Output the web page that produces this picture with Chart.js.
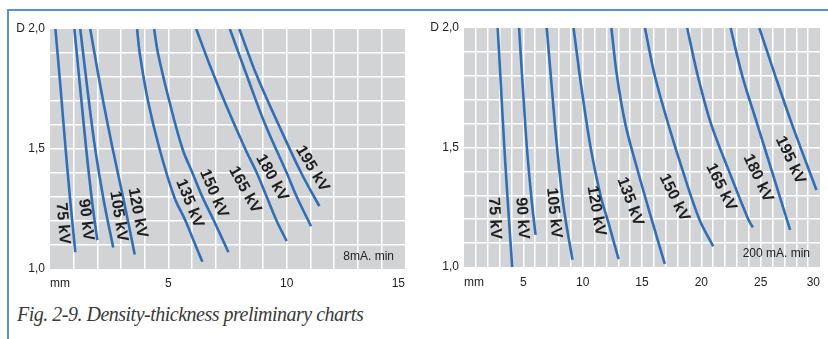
<!DOCTYPE html>
<html>
<head>
<meta charset="utf-8">
<script src="https://cdn.jsdelivr.net/npm/chart.js@4"></script>
<style>
  html, body { margin: 0; padding: 0; background: #fff; width: 828px; height: 339px; overflow: hidden; }
  #frame { position: absolute; left: 7px; top: 9px; width: 830px; height: 340px;
           border-top: 2px solid #5c8fd0; border-left: 2px solid #5c8fd0; }
  #c1 { position: absolute; left: 0; top: 0; }
  #c2 { position: absolute; left: 414px; top: 0; }
  #caption { position: absolute; left: 17px; top: 303px; line-height: 20px; white-space: nowrap;
             font: italic 20px "Liberation Serif", serif; letter-spacing: -0.5px; color: #3a3a3a; }
</style>
</head>
<body>
<div id="frame"></div>
<canvas id="c1" width="412" height="300"></canvas>
<canvas id="c2" width="414" height="300"></canvas>
<div id="caption">Fig. 2-9. Density-thickness preliminary charts</div>

<script>
const kvNames = ['75 kV', '90 kV', '105 kV', '120 kV', '135 kV', '150 kV', '165 kV', '180 kV', '195 kV'];

// 8 mA. min  -- [thickness mm, density D]
const low75  = [[0.23, 2.0], [0.45, 1.75], [0.66, 1.5], [0.87, 1.27], [1.07, 1.07]];
const low90  = [[1.03, 2.0], [1.28, 1.75], [1.53, 1.5], [1.78, 1.28], [2.0, 1.12]];
const low105 = [[1.28, 2.0], [1.58, 1.75], [1.91, 1.5], [2.28, 1.28], [2.67, 1.09]];
const low120 = [[1.70, 2.0], [2.15, 1.75], [2.65, 1.5], [3.15, 1.27], [3.58, 1.06]];
const low135 = [[3.68, 2.0], [3.79, 1.9], [4.14, 1.7], [4.63, 1.5], [5.25, 1.3], [5.73, 1.2], [6.1, 1.11], [6.44, 1.03]];
const low150 = [[4.40, 2.0], [4.56, 1.9], [5.04, 1.7], [5.6, 1.5], [6.02, 1.4], [6.44, 1.3], [6.93, 1.2], [7.54, 1.07]];
const low165 = [[6.18, 2.0], [6.75, 1.85], [7.45, 1.68], [8.25, 1.5], [8.74, 1.4], [9.16, 1.3], [9.58, 1.2], [10.0, 1.116]];
const low180 = [[7.6, 2.0], [8.32, 1.805], [9.09, 1.603], [10.0, 1.401], [10.43, 1.3], [11.03, 1.178]];
const low195 = [[8.0, 2.0], [8.74, 1.805], [9.65, 1.603], [10.61, 1.401], [11.38, 1.262]];

// 200 mA. min
const high75  = [[2.84, 2.0], [3.12, 1.75], [3.4, 1.5], [3.72, 1.25], [4.06, 1.0]];
const high90  = [[4.64, 2.0], [4.96, 1.75], [5.3, 1.5], [5.7, 1.28], [6.03, 1.134]];
const high105 = [[6.97, 2.0], [7.4, 1.75], [7.84, 1.5], [8.4, 1.25], [9.14, 1.03]];
const high120 = [[9.23, 2.0], [9.9, 1.75], [10.67, 1.5], [11.5, 1.3], [12.2, 1.18], [13.03, 1.033]];
const high135 = [[12.42, 2.0], [12.89, 1.8], [13.59, 1.6], [14.6, 1.41], [15.81, 1.2], [16.92, 1.013]];
const high150 = [[15.25, 2.0], [16.08, 1.8], [17.2, 1.6], [18.45, 1.4], [19.83, 1.2], [21.0, 1.086]];
const high165 = [[18.81, 2.0], [19.7, 1.8], [20.81, 1.6], [22.34, 1.4], [23.95, 1.2], [24.34, 1.166]];
const high180 = [[22.47, 2.0], [23.45, 1.8], [24.7, 1.6], [25.95, 1.4], [27.48, 1.155]];
const high195 = [[24.89, 2.0], [26.23, 1.8], [27.62, 1.6], [29.7, 1.322]];

// where the kV names sit (mm, D) and their slant in degrees
const lowLabelAt  = [[0.54, 1.19], [1.52, 1.205], [2.9, 1.22], [3.7, 1.234], [5.9, 1.273], [6.92, 1.315], [8.23, 1.33], [9.38, 1.38], [11.08, 1.418]];
const lowLabelRot = [85, 83, 81, 79, 68, 67, 61, 61, 59];
const highLabelAt  = [[2.57, 1.204], [4.9, 1.204], [7.58, 1.226], [11.14, 1.235], [14.0, 1.274], [17.72, 1.29], [21.66, 1.334], [24.77, 1.372], [27.5, 1.447]];
const highLabelRot = [87, 86, 84, 80, 70, 64, 64, 65, 65];

const lowCurves  = [low75, low90, low105, low120, low135, low150, low165, low180, low195];
const highCurves = [high75, high90, high105, high120, high135, high150, high165, high180, high195];

const blue = '#2e6fbb';
const plotGray = '#d2d3d5';
const tickFont = { family: 'Liberation Sans', size: 12 };

function near(a, b) { return Math.abs(a - b) < 1e-6; }

function edgeAware(ctx) {
    const n = ctx.scale.ticks.length;
    return (ctx.index === 0 || ctx.index === n - 1) ? 'rgba(0,0,0,0)' : '#ffffff';
}

function makeChart(id, curves, labelAt, labelRot, xMax, exposure, box) {
    const bgPlugin = {
        id: 'plotBg',
        beforeDraw(chart) {
            const a = chart.chartArea, c = chart.ctx;
            c.save();
            c.fillStyle = plotGray;
            c.fillRect(a.left, a.top, a.right - a.left, a.bottom - a.top);
            c.restore();
        }
    };
    const textPlugin = {
        id: 'curveNames',
        afterDatasetsDraw(chart) {
            const c = chart.ctx, xs = chart.scales.x, ys = chart.scales.y, a = chart.chartArea;
            c.save();
            c.fillStyle = '#1e1e1e';
            c.font = 'bold 16px "Liberation Sans"';
            c.textAlign = 'center';
            c.textBaseline = 'middle';
            kvNames.forEach((name, i) => {
                c.save();
                c.translate(xs.getPixelForValue(labelAt[i][0]), ys.getPixelForValue(labelAt[i][1]));
                c.rotate(labelRot[i] * Math.PI / 180);
                c.fillText(name, 0, 0);
                c.restore();
            });
            c.font = '12px "Liberation Sans"';
            c.fillStyle = '#222';
            c.textAlign = 'right';
            c.fillText(exposure, a.right - box.expRight, a.bottom - box.expBottom);
            c.restore();
        }
    };

    return new Chart(document.getElementById(id), {
        type: 'line',
        data: {
            datasets: curves.map((pts, i) => ({
                label: kvNames[i],
                data: pts.map(p => ({ x: p[0], y: p[1] })),
                borderColor: blue,
                borderWidth: 2.6,
                pointRadius: 0,
                tension: 0.35,
                fill: false
            }))
        },
        options: {
            responsive: false,
            animation: false,
            devicePixelRatio: 1,
            layout: { padding: { top: box.top, right: box.right, left: 0, bottom: 0 } },
            plugins: { legend: { display: false }, tooltip: { enabled: false } },
            scales: {
                x: {
                    type: 'linear', min: 0, max: xMax,
                    afterFit(s) { s.height = box.xHeight; },
                    border: { display: false },
                    grid: { color: edgeAware, lineWidth: 1.5, drawTicks: false },
                    ticks: {
                        stepSize: 1, autoSkip: false, maxRotation: 0, align: 'inner',
                        padding: box.xPad, color: '#222', font: tickFont,
                        callback: v => v === 0 ? 'mm' : (v % 5 === 0 ? String(v) : '')
                    }
                },
                y: {
                    type: 'linear', min: 1, max: 2,
                    afterFit(s) { s.width = 50; },
                    border: { display: false },
                    grid: { color: edgeAware, lineWidth: 1.5, drawTicks: false },
                    ticks: {
                        stepSize: 0.1, autoSkip: false, padding: 5, color: '#222', font: tickFont,
                        callback: v => near(v, 2) ? 'D 2,0' : near(v, 1.5) ? '1,5' : near(v, 1) ? '1,0' : ''
                    }
                }
            }
        },
        plugins: [bgPlugin, textPlugin]
    });
}

makeChart('c1', lowCurves, lowLabelAt, lowLabelRot, 15, '8mA. min',
    { top: 29, right: 3, xHeight: 31, xPad: 7, expRight: 11, expBottom: 12 });
makeChart('c2', highCurves, highLabelAt, highLabelRot, 30, '200 mA. min',
    { top: 28, right: 5, xHeight: 33, xPad: 8, expRight: 10, expBottom: 13 });
</script>
</body>
</html>
